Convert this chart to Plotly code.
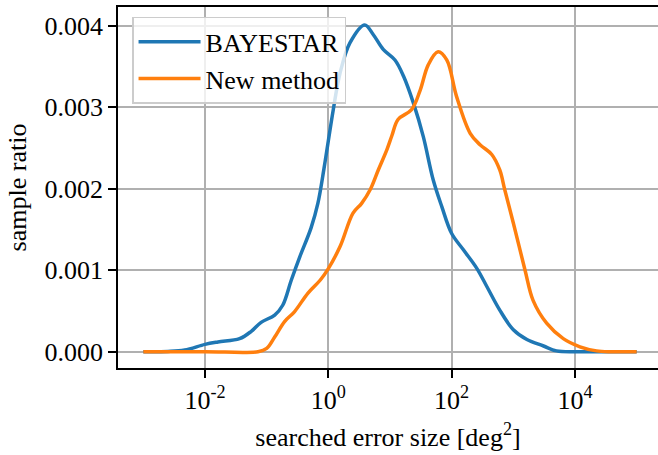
import numpy as np
import plotly.graph_objects as go

# log10 of searched error size [deg^2] and sample ratio
bayestar_log10_area = [-3.0, -2.6, -2.33, -2.0, -1.79, -1.44, -1.25, -1.09, -0.87, -0.74,
                       -0.60, -0.46, -0.28, -0.17, -0.07, 0.08, 0.19, 0.35, 0.59, 0.73,
                       0.89, 1.08, 1.22, 1.38, 1.54, 1.70, 1.84, 2.0, 2.19, 2.41,
                       2.57, 2.78, 3.0, 3.22, 3.49, 3.70, 4.08, 5.0]
bayestar_ratio = [0.0, 0.000003, 0.00002, 0.00009, 0.00012, 0.00016, 0.00025, 0.00036, 0.00045, 0.00057,
                  0.00088, 0.00117, 0.00152, 0.00182, 0.00225, 0.00297, 0.00342, 0.00379, 0.00401, 0.00389,
                  0.00371, 0.00358, 0.00338, 0.00305, 0.00264, 0.00211, 0.00178, 0.00145, 0.00125, 0.00102,
                  0.00080, 0.00051, 0.00027, 0.00015, 0.00007, 0.00001, 0.0, 0.0]

new_log10_area = [-3.0, -2.0, -1.14, -1.0, -0.87, -0.71, -0.55, -0.33, -0.13, 0.0,
                  0.19, 0.40, 0.54, 0.68, 0.81, 0.95, 1.03, 1.13, 1.35, 1.49,
                  1.62, 1.78, 1.92, 2.08, 2.30, 2.46, 2.65, 2.78, 2.86, 3.0,
                  3.19, 3.32, 3.54, 3.81, 4.08, 4.35, 4.6, 5.0]
new_ratio = [0.0, 0.0, 0.0, 0.00004, 0.00018, 0.00037, 0.00049, 0.00072, 0.00088, 0.00102,
             0.00129, 0.00170, 0.00182, 0.00199, 0.00223, 0.00248, 0.00265, 0.00285, 0.00297, 0.00321,
             0.00352, 0.00368, 0.00358, 0.00313, 0.00268, 0.00254, 0.00242, 0.00223, 0.00199, 0.00158,
             0.00100, 0.00063, 0.00035, 0.00016, 0.00006, 0.00001, 0.0, 0.0]

x_tick_vals = [1e-2, 1e0, 1e2, 1e4]
x_tick_text = ["10<sup>-2</sup>", "10<sup>0</sup>", "10<sup>2</sup>", "10<sup>4</sup>"]
y_tick_vals = [0.0, 0.001, 0.002, 0.003, 0.004]

FONT = "Liberation Serif, Times New Roman, serif"
TXT = dict(family=FONT, size=26, color="black")

fig = go.Figure()
fig.add_trace(go.Scatter(
    x=np.power(10.0, bayestar_log10_area), y=bayestar_ratio, mode="lines", name="BAYESTAR",
    line=dict(color="#1f77b4", width=3.5, shape="spline", smoothing=1.0)))
fig.add_trace(go.Scatter(
    x=np.power(10.0, new_log10_area), y=new_ratio, mode="lines", name="New method",
    line=dict(color="#ff7f0e", width=3.5, shape="spline", smoothing=1.0)))

fig.update_layout(
    width=658, height=455,
    margin=dict(l=118, r=0, t=7, b=87),
    paper_bgcolor="white", plot_bgcolor="white",
    font=TXT,
    showlegend=True,
    legend=dict(x=0.026, y=0.973, xanchor="left", yanchor="top",
                bgcolor="rgba(255,255,255,0.8)", bordercolor="#cccccc", borderwidth=1.5,
                font=TXT, itemwidth=62, tracegroupgap=0),
)
fig.update_xaxes(
    type="log", range=[-3.411, 5.346],
    tickvals=x_tick_vals, ticktext=x_tick_text, tickfont=TXT,
    ticks="outside", ticklen=8, tickwidth=1.7, tickcolor="black",
    showline=True, linecolor="black", linewidth=1.7, mirror=True,
    showgrid=True, gridcolor="#b0b0b0", gridwidth=1.7, zeroline=False,
    title=dict(text="searched error size [deg<sup>2</sup>]", font=TXT, standoff=14),
)
fig.update_yaxes(
    range=[-0.0002, 0.00423],
    tickvals=y_tick_vals, tickformat=".3f", tickfont=TXT,
    ticks="outside", ticklen=8, tickwidth=1.7, tickcolor="black",
    showline=True, linecolor="black", linewidth=1.7, mirror=False,
    showgrid=True, gridcolor="#b0b0b0", gridwidth=1.7, zeroline=False,
    title=dict(text="sample ratio", font=TXT, standoff=10),
)

fig.write_html("out.html")
